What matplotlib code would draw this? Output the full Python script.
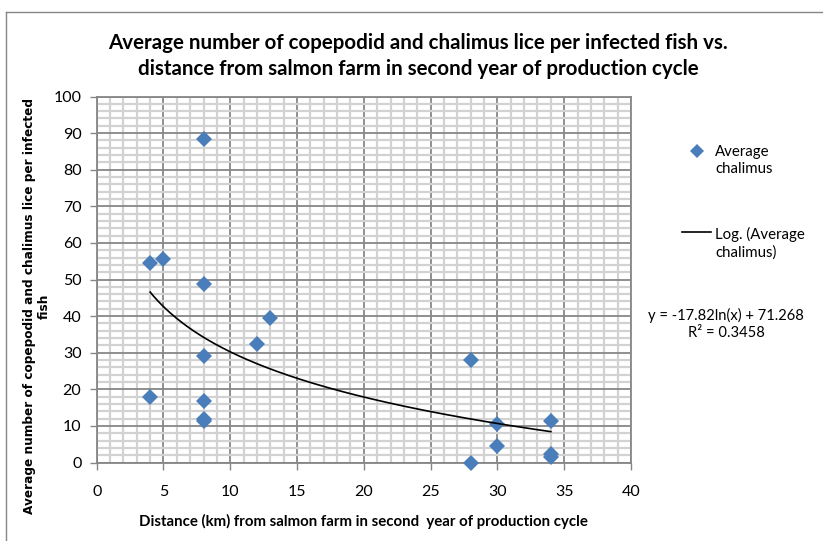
import numpy as np
import matplotlib
matplotlib.use("Agg")
import matplotlib.pyplot as plt
from matplotlib.lines import Line2D
from matplotlib.ticker import MultipleLocator

# ---- data ----
distance_km = [4, 4, 5, 8, 8, 8, 8, 8, 8, 12, 13, 28, 28, 30, 30, 34, 34, 34]
avg_chalimus = [54.4, 17.8, 55.5, 88.3, 48.8, 29.1, 16.9, 12.0, 11.3, 32.5, 39.4,
                28.1, 0.0, 10.6, 4.5, 11.4, 2.3, 1.5]
trend_a = -17.82
trend_b = 71.268
r_squared = 0.3458
x_ticks = [0, 5, 10, 15, 20, 25, 30, 35, 40]
y_ticks = [0, 10, 20, 30, 40, 50, 60, 70, 80, 90, 100]

title = ("Average number of copepodid and chalimus lice per infected fish vs.\n"
         "distance from salmon farm in second year of production cycle")
xlabel = "Distance (km) from salmon farm in second  year of production cycle"
ylabel = "Average number of copepodid and chalimus lice per infected\nfish"

FONT = ["Lato", "DejaVu Sans"]
plt.rcParams["font.family"] = FONT

W, H = 823, 541
fig = plt.figure(figsize=(W / 100, H / 100), dpi=100)

def fx(px):
    return px / W

def fy(py):
    return 1 - py / H

# chart frame (partially visible)
fig.add_artist(Line2D([fx(6), fx(6)], [fy(12), 0], color="#868686", lw=1.0))
fig.add_artist(Line2D([fx(6), 1], [fy(12), fy(12)], color="#868686", lw=1.0))

ax_l, ax_r, ax_t, ax_b = 96.7, 631, 96.5, 462.5
ax = fig.add_axes([fx(ax_l), fy(ax_b), (ax_r - ax_l) / W, (ax_b - ax_t) / H])

ax.set_xlim(0, 40)
ax.set_ylim(0, 100)
ax.xaxis.set_minor_locator(MultipleLocator(1))
ax.yaxis.set_minor_locator(MultipleLocator(2))
ax.set_xticks(x_ticks)
ax.set_yticks(y_ticks)

ax.grid(which="minor", color="#d2d2d2", lw=1.6, zorder=0)
ax.grid(which="major", color="#878787", lw=1.3, zorder=0.5)
ax.set_axisbelow(True)

for s in ["left", "bottom"]:
    ax.spines[s].set_color("#868686")
    ax.spines[s].set_linewidth(1.3)
for s in ["top", "right"]:
    ax.spines[s].set_color("#878787")
    ax.spines[s].set_linewidth(1.3)

ax.tick_params(which="major", direction="out", length=5, width=1.0, color="#868686",
               labelsize=11.5, pad=6, labelcolor="#000000")
ax.tick_params(which="minor", length=0)
ax.tick_params(axis="x", pad=11)

# data points
ax.plot(distance_km, avg_chalimus, linestyle="none", marker="D", markersize=8.2,
        color="#4A7EBB", markeredgewidth=0, zorder=3, clip_on=False)

# logarithmic trendline
xt = np.linspace(min(distance_km), max(distance_km), 200)
yt = trend_a * np.log(xt) + trend_b
ax.plot(xt, yt, color="black", lw=1.2, zorder=4)

# title
fig.text(fx(418), fy(56), title, ha="center", va="center", fontsize=14.8,
         fontweight="bold", linespacing=1.37)

# axis labels
fig.text(fx(363), fy(521), xlabel, ha="center", va="center", fontsize=10.8,
         fontweight="bold")
fig.text(fx(37), fy(306), ylabel, ha="center", va="center", fontsize=8.7,
         fontweight="bold", rotation=90, multialignment="center", linespacing=1.15,
         family=["DejaVu Sans"])

# legend (manual, in figure pixel coords)
fig.add_artist(Line2D([fx(697)], [fy(150.7)], marker="D", markersize=7,
                      color="#4A7EBB", markeredgewidth=0, linestyle="none"))
fig.text(fx(715), fy(160.5), "Average\nchalimus", ha="left", va="center",
         fontsize=10.8, linespacing=1.3)
fig.add_artist(Line2D([fx(682), fx(711)], [fy(232), fy(232)], color="black", lw=1.2))
fig.text(fx(715), fy(243), "Log. (Average\nchalimus)", ha="left", va="center",
         fontsize=10.8, linespacing=1.3)

fig.text(fx(726), fy(324),
         f"y = {trend_a:.2f}ln(x) + {trend_b:.3f}\nR\u00b2 = {r_squared:.4f}",
         ha="center", va="center", fontsize=10.6, linespacing=1.2,
         multialignment="center")

fig.savefig("out.png", dpi=100)
